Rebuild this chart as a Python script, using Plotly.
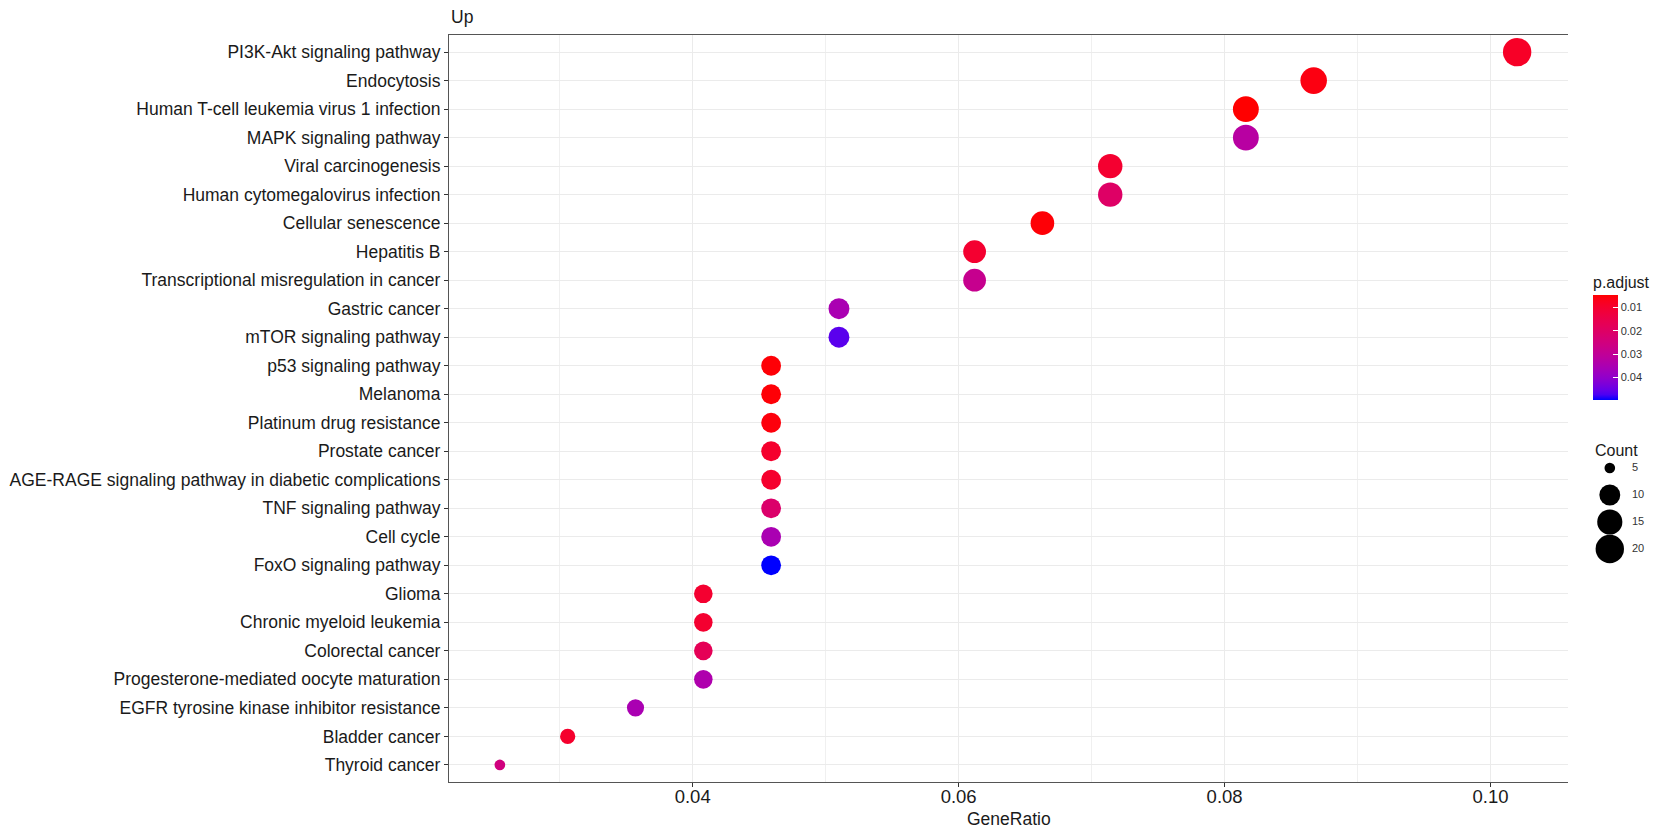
import math
import plotly.graph_objects as go

# ---------------- data ----------------
categories = [
    "PI3K-Akt signaling pathway",
    "Endocytosis",
    "Human T-cell leukemia virus 1 infection",
    "MAPK signaling pathway",
    "Viral carcinogenesis",
    "Human cytomegalovirus infection",
    "Cellular senescence",
    "Hepatitis B",
    "Transcriptional misregulation in cancer",
    "Gastric cancer",
    "mTOR signaling pathway",
    "p53 signaling pathway",
    "Melanoma",
    "Platinum drug resistance",
    "Prostate cancer",
    "AGE-RAGE signaling pathway in diabetic complications",
    "TNF signaling pathway",
    "Cell cycle",
    "FoxO signaling pathway",
    "Glioma",
    "Chronic myeloid leukemia",
    "Colorectal cancer",
    "Progesterone-mediated oocyte maturation",
    "EGFR tyrosine kinase inhibitor resistance",
    "Bladder cancer",
    "Thyroid cancer",
]
gene_ratio = [0.1020, 0.0867, 0.0816, 0.0816, 0.0714, 0.0714, 0.0663, 0.0612, 0.0612,
              0.0510, 0.0510, 0.0459, 0.0459, 0.0459, 0.0459, 0.0459, 0.0459, 0.0459,
              0.0459, 0.0408, 0.0408, 0.0408, 0.0408, 0.0357, 0.0306, 0.0255]
counts = [20, 17, 16, 16, 14, 14, 13, 12, 12, 10, 10, 9, 9, 9, 9, 9, 9, 9, 9,
          8, 8, 8, 8, 7, 6, 5]
p_adjust = [0.0085, 0.0060, 0.0045, 0.0320, 0.0100, 0.0200, 0.0050, 0.0100, 0.0280,
            0.0350, 0.0460, 0.0050, 0.0050, 0.0055, 0.0095, 0.0095, 0.0210, 0.0350,
            0.0494, 0.0100, 0.0100, 0.0170, 0.0340, 0.0350, 0.0095, 0.0250]
pval_ticks = [0.01, 0.02, 0.03, 0.04]
x_ticks = [0.04, 0.06, 0.08, 0.10]
x_minor = [0.03, 0.05, 0.07, 0.09]
legend_counts = [5, 10, 15, 20]

# ---------------- helpers ----------------
def srgb_to_lab(rgb):
    def lin(c):
        c = c / 255.0
        return c / 12.92 if c <= 0.04045 else ((c + 0.055) / 1.055) ** 2.4
    r, g, b = (lin(c) for c in rgb)
    X = (0.4124 * r + 0.3576 * g + 0.1805 * b) / 0.95047
    Y = (0.2126 * r + 0.7152 * g + 0.0722 * b)
    Z = (0.0193 * r + 0.1192 * g + 0.9505 * b) / 1.08883
    def f(t):
        return t ** (1 / 3) if t > 0.008856 else 7.787 * t + 16 / 116
    fx, fy, fz = f(X), f(Y), f(Z)
    return (116 * fy - 16, 500 * (fx - fy), 200 * (fy - fz))

def lab_to_srgb(L, a, b):
    fy = (L + 16) / 116
    fx = fy + a / 500
    fz = fy - b / 200
    def finv(t):
        return t ** 3 if t ** 3 > 0.008856 else (t - 16 / 116) / 7.787
    X, Y, Z = 0.95047 * finv(fx), finv(fy), 1.08883 * finv(fz)
    r = 3.2406 * X - 1.5372 * Y - 0.4986 * Z
    g = -0.9689 * X + 1.8758 * Y + 0.0415 * Z
    bb = 0.0557 * X - 0.2040 * Y + 1.0570 * Z
    def gam(c):
        c = max(0.0, min(1.0, c))
        return 12.92 * c if c <= 0.0031308 else 1.055 * c ** (1 / 2.4) - 0.055
    return tuple(int(round(gam(c) * 255)) for c in (r, g, bb))

red_lab = srgb_to_lab((255, 0, 0))
blue_lab = srgb_to_lab((0, 0, 255))
colorscale = []
n_stops = 21
for i in range(n_stops):
    s = i / (n_stops - 1)          # s=0 -> blue (largest p), s=1 -> red (smallest p)
    t = 1 - s
    lab = [red_lab[k] + (blue_lab[k] - red_lab[k]) * t for k in range(3)]
    r, g, b = lab_to_srgb(*lab)
    colorscale.append([s, f"rgb({r},{g},{b})"])

cmin_c, cmax_c = min(counts), max(counts)
def dot_size(c):
    frac = (c - cmin_c) / (cmax_c - cmin_c)
    return 3.55 * (3 + 5 * math.sqrt(frac))

span = max(gene_ratio) - min(gene_ratio)
x_range = [min(gene_ratio) - 0.05 * span, max(gene_ratio) + 0.05 * span]

# ---------------- layout geometry ----------------
W, H = 1653, 832
ML, MR, MT, MB = 449, 0, 35, 50
PW = W - ML - MR
PH = H - MT - MB
def px_x(x):
    return (x - ML) / PW
def px_y(y):
    return (H - MB - y) / PH

FONT = "Liberation Sans, Arial, Helvetica, sans-serif"
TXT = "#1a1a1a"

fig = go.Figure()
fig.add_trace(go.Scatter(
    x=gene_ratio, y=categories, mode="markers", showlegend=False,
    marker=dict(
        size=[dot_size(c) for c in counts],
        color=[-p for p in p_adjust],
        colorscale=colorscale,
        cmin=-max(p_adjust), cmax=-min(p_adjust),
        line=dict(width=0), opacity=1,
        showscale=True,
        colorbar=dict(
            title=dict(text="p.adjust", side="top", font=dict(size=16, color=TXT, family=FONT)),
            thickness=25, len=127, lenmode="pixels",
            x=px_x(1593), xanchor="left", y=px_y(336), yanchor="middle",
            xpad=0, ypad=0, outlinewidth=0,
            tickvals=[-v for v in pval_ticks], ticktext=[f"{v:.2f}" for v in pval_ticks],
            ticks="inside", ticklen=5, tickcolor="white", tickwidth=1,
            tickfont=dict(size=11, color="#333333", family=FONT),
        ),
    ),
    hovertemplate="%{y}<br>GeneRatio=%{x}<extra></extra>",
))

# size legend
fig.add_trace(go.Scatter(
    x=[0.33] * len(legend_counts), y=list(range(len(legend_counts))),
    mode="markers", xaxis="x2", yaxis="y2", showlegend=False, cliponaxis=False,
    marker=dict(size=[dot_size(c) for c in legend_counts], color="#000000",
                opacity=1, line=dict(width=0)),
    hoverinfo="skip",
))
fig.add_trace(go.Scatter(
    x=[0.7] * len(legend_counts), y=list(range(len(legend_counts))),
    mode="text", text=[str(c) for c in legend_counts], textposition="middle right",
    textfont=dict(size=11, color="#333333", family=FONT),
    xaxis="x2", yaxis="y2", showlegend=False, cliponaxis=False, hoverinfo="skip",
))

fig.update_layout(
    width=W, height=H, autosize=False,
    margin=dict(l=ML, r=MR, t=MT, b=MB, pad=0),
    plot_bgcolor="white", paper_bgcolor="white",
    font=dict(family=FONT, color=TXT),
    xaxis=dict(
        domain=[0, px_x(1568)], range=x_range,
        tickvals=x_ticks, ticktext=[f"{v:.2f}" for v in x_ticks],
        showgrid=True, gridcolor="#EBEBEB", gridwidth=1.1,
        minor=dict(tickvals=x_minor, showgrid=True, gridcolor="#F0F0F0", gridwidth=0.7, ticks=""),
        showline=True, linecolor="#555555", linewidth=1.1, mirror=True,
        ticks="outside", ticklen=4, tickcolor="#333333", tickwidth=1,
        ticklabelstandoff=-6,
        tickfont=dict(size=18.5, color=TXT), zeroline=False,
    ),
    yaxis=dict(
        type="category", categoryorder="array", categoryarray=categories,
        range=[len(categories) - 1 + 0.6, -0.6],
        showgrid=True, gridcolor="#EBEBEB", gridwidth=1.1,
        showline=True, linecolor="#555555", linewidth=1.1,
        ticks="outside", ticklen=4, tickcolor="#333333", tickwidth=1,
        tickfont=dict(size=17.5, color=TXT), zeroline=False,
    ),
    xaxis2=dict(domain=[px_x(1590), px_x(1650)], range=[0, 1], visible=False, anchor="y2"),
    yaxis2=dict(domain=[px_y(562.5), px_y(454.5)], range=[3.5, -0.5], visible=False, anchor="x2"),
    annotations=[
        dict(text="Up", xref="paper", yref="paper", x=0, y=px_y(17), xanchor="left",
             yanchor="middle", showarrow=False, font=dict(size=17.5, color=TXT)),
        dict(text="GeneRatio", xref="paper", yref="paper", x=px_x((449 + 1568) / 2),
             y=px_y(819), xanchor="center", yanchor="middle", showarrow=False,
             font=dict(size=17.5, color=TXT)),
        dict(text="Count", xref="paper", yref="paper", x=px_x(1593), y=px_y(450),
             xanchor="left", yanchor="middle", showarrow=False,
             font=dict(size=16, color=TXT)),
    ],
)

fig.write_html("out.html", config={"displayModeBar": False},
               post_script="document.body.style.margin='0px';")
